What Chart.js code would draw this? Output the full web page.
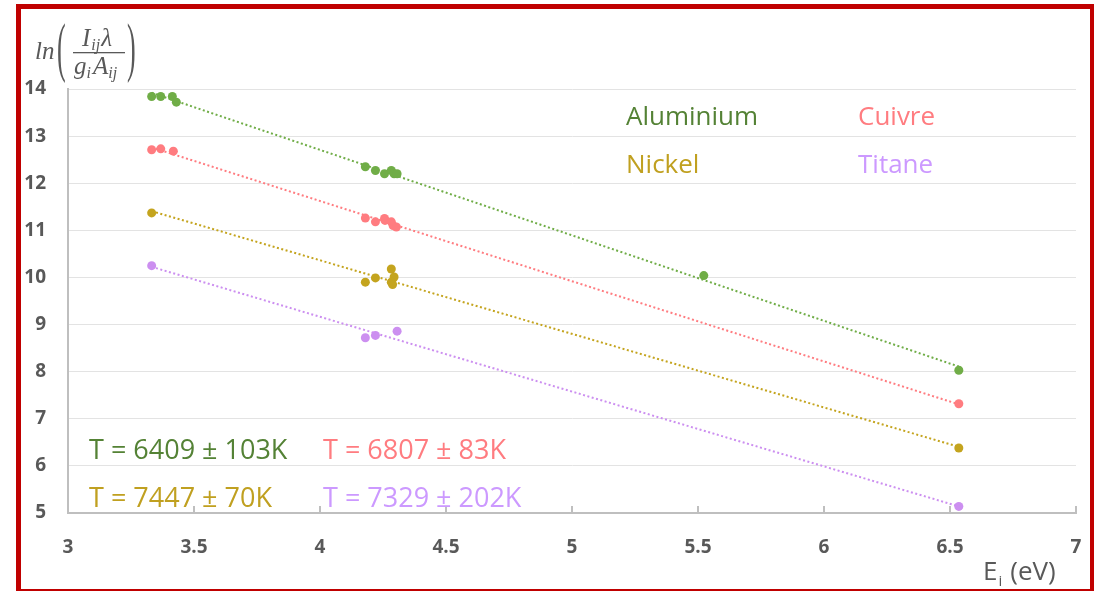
<!DOCTYPE html>
<html>
<head>
<meta charset="utf-8">
<script src="https://cdn.jsdelivr.net/npm/chart.js@4/dist/chart.umd.min.js"></script>
<style>
  html, body { margin: 0; padding: 0; background: #fff; }
  #wrap { position: relative; width: 1094px; height: 591px; overflow: hidden; }
  #frame { position: absolute; left: 16px; top: 4px; width: 1069px; height: 580px; border: 5px solid #C00000; pointer-events: none; }
</style>
</head>
<body>
<div id="wrap">
  <canvas id="c" width="1094" height="591"></canvas>
  <div id="frame"></div>
</div>
<script>
// ---- data ----
const alE  = [3.332, 3.368, 3.414, 3.430, 4.180, 4.220, 4.256, 4.283, 4.294, 4.306, 5.523, 6.535];
const alLn = [13.84, 13.84, 13.84, 13.72, 12.35, 12.27, 12.20, 12.27, 12.20, 12.20, 10.04, 8.03];

const cuE  = [3.332, 3.368, 3.418, 4.180, 4.220, 4.256, 4.258, 4.283, 4.290, 4.303, 6.535];
const cuLn = [12.71, 12.73, 12.68, 11.26, 11.18, 11.25, 11.21, 11.18, 11.10, 11.07, 7.32];

const niE  = [3.332, 4.180, 4.220, 4.283, 4.294, 4.283, 4.288, 6.535];
const niLn = [11.37, 9.90, 9.99, 10.18, 10.01, 9.90, 9.85, 6.38];

const tiE  = [3.332, 4.180, 4.220, 4.306, 6.535];
const tiLn = [10.25, 8.72, 8.77, 8.86, 5.14];

const seriesNames = ['Aluminium', 'Cuivre', 'Nickel', 'Titane'];
const tempLabels  = ['T = 6409 ± 103K', 'T = 6807 ± 83K', 'T = 7447 ± 70K', 'T = 7329 ± 202K'];
const xTicks = [3, 3.5, 4, 4.5, 5, 5.5, 6, 6.5, 7];
const xTickLabels = ['3', '3.5', '4', '4.5', '5', '5.5', '6', '6.5', '7'];
const yTicks = [5, 6, 7, 8, 9, 10, 11, 12, 13, 14];

const pointColors = ['#70AD47', '#FF7C80', '#C4A41E', '#CC8FF0'];
const textColors  = ['#548235', '#FF7C80', '#C0A020', '#CC99FF'];

// ---- helpers ----
function pts(xs, ys) { return xs.map((x, i) => ({ x: x, y: ys[i] })); }
function trend(xs, ys) {
  const n = xs.length;
  let sx = 0, sy = 0, sxx = 0, sxy = 0;
  for (let i = 0; i < n; i++) { sx += xs[i]; sy += ys[i]; sxx += xs[i] * xs[i]; sxy += xs[i] * ys[i]; }
  const b = (n * sxy - sx * sy) / (n * sxx - sx * sx);
  const a = (sy - b * sx) / n;
  const x0 = Math.min(...xs), x1 = Math.max(...xs);
  return [{ x: x0, y: a + b * x0 }, { x: x1, y: a + b * x1 }];
}

const allX = [alE, cuE, niE, tiE];
const allY = [alLn, cuLn, niLn, tiLn];

const datasets = [];
for (let k = 0; k < 4; k++) {
  datasets.push({
    label: seriesNames[k] + ' tendance',
    data: trend(allX[k], allY[k]),
    showLine: true,
    borderColor: pointColors[k],
    borderWidth: 2,
    borderDash: [2, 2.5],
    pointRadius: 0,
    fill: false,
    order: 2
  });
}
for (let k = 0; k < 4; k++) {
  datasets.push({
    label: seriesNames[k],
    data: pts(allX[k], allY[k]),
    showLine: false,
    backgroundColor: pointColors[k],
    borderColor: pointColors[k],
    pointRadius: 4.5,
    pointBorderWidth: 0,
    order: 1
  });
}

const GRAY = '#595959';

const decor = {
  id: 'decor',
  afterDraw(chart) {
    const ctx = chart.ctx;
    const xs = chart.scales.x, ys = chart.scales.y;
    ctx.save();
    // inward tick marks on x axis
    ctx.strokeStyle = '#BFBFBF';
    ctx.lineWidth = 2;
    const yb = ys.getPixelForValue(5);
    xTicks.forEach(v => {
      const px = Math.round(xs.getPixelForValue(v));
      ctx.beginPath(); ctx.moveTo(px, yb); ctx.lineTo(px, yb - 7); ctx.stroke();
    });

    // series names
    ctx.textBaseline = 'alphabetic';
    ctx.font = '26px "Open Sans"';
    ctx.fillStyle = textColors[0]; ctx.fillText(seriesNames[0], 626, 125);
    ctx.fillStyle = textColors[1]; ctx.fillText(seriesNames[1], 858, 125);
    ctx.fillStyle = textColors[2]; ctx.fillText(seriesNames[2], 626, 173);
    ctx.fillStyle = textColors[3]; ctx.fillText(seriesNames[3], 858, 173);

    // temperatures
    ctx.font = '27px "Open Sans"';
    ctx.fillStyle = textColors[0]; ctx.fillText(tempLabels[0], 89, 459);
    ctx.fillStyle = textColors[1]; ctx.fillText(tempLabels[1], 323, 459);
    ctx.fillStyle = textColors[2]; ctx.fillText(tempLabels[2], 89, 507);
    ctx.fillStyle = textColors[3]; ctx.fillText(tempLabels[3], 323, 507);

    // x axis title  E_i (eV)
    ctx.fillStyle = GRAY;
    ctx.font = '26px "Open Sans"';
    let x = 983;
    ctx.fillText('E', x, 580); x += ctx.measureText('E').width + 1;
    ctx.font = '15px "Open Sans"';
    ctx.fillText('i', x, 586); x += ctx.measureText('i').width + 8;
    ctx.font = '26px "Open Sans"';
    ctx.fillText('(eV)', x, 580);

    // y axis title  ln( I_ij λ / g_i A_ij )
    const big = 'italic 25px "Liberation Serif"';
    const sub = 'italic 16px "Liberation Serif"';
    ctx.font = big;
    ctx.fillText('ln', 35, 59);
    // parentheses
    ctx.save();
    ctx.font = '26px "Liberation Serif"';
    ctx.textBaseline = 'middle';
    ctx.translate(57, 52); ctx.scale(1, 2.5);
    ctx.fillText('(', 0, 0);
    ctx.restore();
    ctx.save();
    ctx.font = '26px "Liberation Serif"';
    ctx.textBaseline = 'middle';
    ctx.translate(127, 52); ctx.scale(1, 2.5);
    ctx.fillText(')', 0, 0);
    ctx.restore();
    // fraction bar
    ctx.fillRect(73, 52, 52, 1.3);
    // numerator
    x = 82;
    ctx.font = big; ctx.fillText('I', x, 46); x += ctx.measureText('I').width + 1;
    ctx.font = sub; ctx.fillText('ij', x, 50); x += ctx.measureText('ij').width + 1;
    ctx.font = big; ctx.fillText('λ', x, 46);
    // denominator
    x = 74;
    ctx.font = big; ctx.fillText('g', x, 74); x += ctx.measureText('g').width;
    ctx.font = sub; ctx.fillText('i', x, 78); x += ctx.measureText('i').width + 2;
    ctx.font = big; ctx.fillText('A', x, 74); x += ctx.measureText('A').width;
    ctx.font = sub; ctx.fillText('ij', x, 78);
    ctx.restore();
  }
};

new Chart(document.getElementById('c'), {
  type: 'scatter',
  data: { datasets: datasets },
  options: {
    responsive: false,
    animation: false,
    devicePixelRatio: 1,
    layout: { padding: { top: 89, right: 18, left: 0, bottom: 0 } },
    plugins: { legend: { display: false }, tooltip: { enabled: false } },
    scales: {
      x: {
        type: 'linear', min: 3, max: 7,
        afterBuildTicks: s => { s.ticks = xTicks.map(v => ({ value: v })); },
        afterFit: s => { s.height = 78; s.paddingLeft = 0; s.paddingRight = 0; },
        grid: { drawOnChartArea: false, drawTicks: false },
        border: { display: true, color: '#BFBFBF', width: 2 },
        ticks: {
          padding: 23, color: GRAY, font: { family: 'Open Sans', size: 19, weight: 'bold' },
          callback: (v, i) => xTickLabels[i]
        }
      },
      y: {
        type: 'linear', min: 5, max: 14,
        afterBuildTicks: s => { s.ticks = yTicks.map(v => ({ value: v })); },
        afterFit: s => { s.width = 68; s.paddingTop = 0; s.paddingBottom = 0; },
        grid: { color: '#E3E3E3', lineWidth: 1, drawTicks: false },
        border: { display: true, color: '#BFBFBF', width: 2 },
        ticks: {
          padding: 22, color: GRAY, font: { family: 'Open Sans', size: 19, weight: 'bold' },
          callback: v => String(v)
        }
      }
    }
  },
  plugins: [decor]
});
</script>
</body>
</html>
